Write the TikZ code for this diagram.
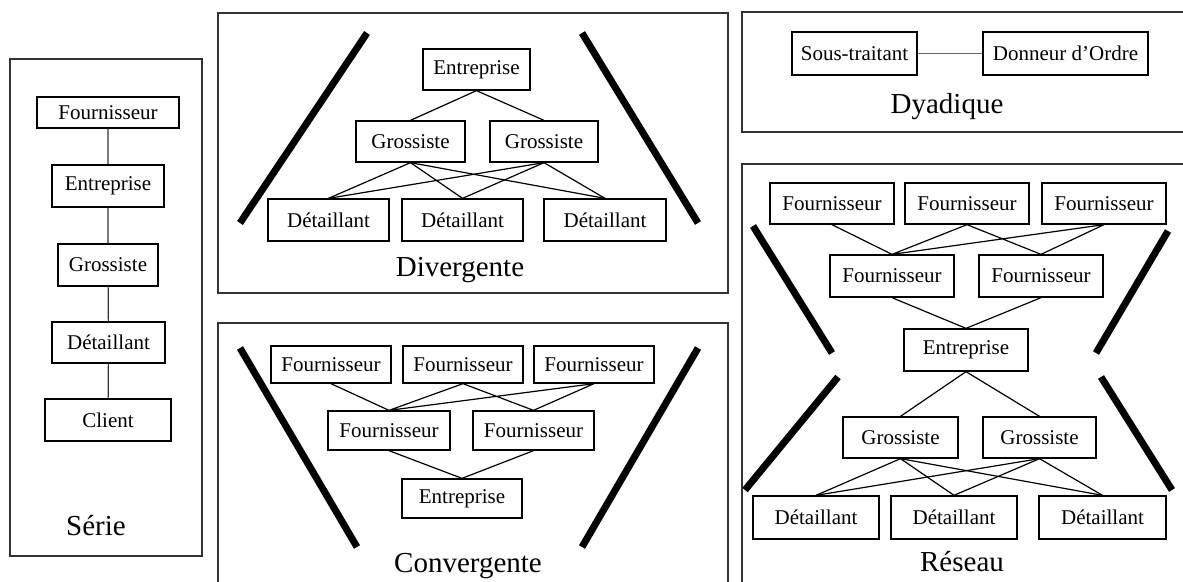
\documentclass[tikz,border=0pt]{standalone}
\usepackage{fontspec}
\setmainfont{Liberation Serif}
\begin{document}
\begin{tikzpicture}[x=1pt,y=-1pt,
  box/.style={draw, line width=1.3pt, inner sep=0pt, font=\fontsize{21}{24}\selectfont},
  frame/.style={draw=black!80, line width=1.4pt},
  link/.style={line width=1.2pt},
  bar/.style={line width=7pt},
  title/.style={inner sep=0pt, font=\fontsize{29}{34}\selectfont}]
\useasboundingbox (0,0) rectangle (1183,581);
\clip (0,0) rectangle (1183,581);
\fill[white] (0,0) rectangle (1183,581);

% ---------- Serie ----------
\draw[frame] (10,59) rectangle (202,556);
\node[box, minimum width=142pt, minimum height=31pt] (s1) at (108,112.5) {Fournisseur};
\node[box, minimum width=112pt, minimum height=42pt] (s2) at (108,186) {Entreprise};
\node[box, minimum width=100pt, minimum height=42pt] (s3) at (108,265) {Grossiste};
\node[box, minimum width=113pt, minimum height=41pt] (s4) at (108.5,342.5) {Détaillant};
\node[box, minimum width=126pt, minimum height=42pt] (s5) at (108,420) {Client};
\draw[link, black!80] (s1) -- (s2) (s2) -- (s3) (s3) -- (s4) (s4) -- (s5);
\node[title] (tserie) at (96,526) {Série};

% ---------- Divergente ----------
\draw[frame] (218,13) rectangle (728,293);
\draw[bar] (240,223) -- (367,33);
\draw[bar] (582,33) -- (698,223);
\node[box, minimum width=107pt, minimum height=41pt] (de) at (476.5,69.5) {Entreprise};
\node[box, minimum width=109pt, minimum height=41pt] (dg1) at (410.5,141.5) {Grossiste};
\node[box, minimum width=108pt, minimum height=41pt] (dg2) at (544,141.5) {Grossiste};
\node[box, minimum width=121pt, minimum height=42pt] (dd1) at (328.5,220) {Détaillant};
\node[box, minimum width=121pt, minimum height=42pt] (dd2) at (462.5,220) {Détaillant};
\node[box, minimum width=122pt, minimum height=42pt] (dd3) at (605,220) {Détaillant};
\draw[link] (de.south) -- (dg1.north) (de.south) -- (dg2.north);
\foreach \g in {dg1,dg2}{
  \foreach \d in {dd1,dd2,dd3}{
    \draw[link] (\g.south) -- (\d.north);
  }
}
\node[title] (tdiv) at (460,270) {Divergente};

% ---------- Convergente ----------
\draw[frame] (218,323) rectangle (728,600);
\draw[bar] (240,348) -- (357,547);
\draw[bar] (698,348) -- (582,547);
\node[box, minimum width=120pt, minimum height=37pt] (cf1) at (331,364.5) {Fournisseur};
\node[box, minimum width=120pt, minimum height=37pt] (cf2) at (463,364.5) {Fournisseur};
\node[box, minimum width=120pt, minimum height=37pt] (cf3) at (594,364.5) {Fournisseur};
\node[box, minimum width=122pt, minimum height=39pt] (cf4) at (389,430.5) {Fournisseur};
\node[box, minimum width=121pt, minimum height=39pt] (cf5) at (533.5,430.5) {Fournisseur};
\node[box, minimum width=120pt, minimum height=39pt] (ce) at (462,498.5) {Entreprise};
\draw[link] (cf1.south) -- (cf4.north)
            (cf2.south) -- (cf4.north) (cf2.south) -- (cf5.north)
            (cf3.south) -- (cf4.north) (cf3.south) -- (cf5.north)
            (cf4.south) -- (ce.north) (cf5.south) -- (ce.north);
\node[title] (tconv) at (468,566) {Convergente};

% ---------- Dyadique ----------
\draw[frame] (742,12) rectangle (1200,132);
\node[box, minimum width=125pt, minimum height=43pt] (st) at (854.5,53.5) {Sous-traitant};
\node[box, minimum width=165pt, minimum height=43pt] (dor) at (1065.5,53.5) {Donneur d’Ordre};
\draw[link, black!60] (st) -- (dor);
\node[title] (tdya) at (947,107) {Dyadique};

% ---------- Reseau ----------
\draw[frame] (742,164) rectangle (1200,600);
\draw[bar] (753,226) -- (832,353);
\draw[bar] (838,377) -- (745,490);
\draw[bar] (1168,231) -- (1096,353);
\draw[bar] (1101,377) -- (1172,490);
\node[box, minimum width=124pt, minimum height=41pt] (rf1) at (832,203.5) {Fournisseur};
\node[box, minimum width=124pt, minimum height=41pt] (rf2) at (967,203.5) {Fournisseur};
\node[box, minimum width=124pt, minimum height=41pt] (rf3) at (1104,203.5) {Fournisseur};
\node[box, minimum width=124pt, minimum height=42pt] (rf4) at (892,276) {Fournisseur};
\node[box, minimum width=124pt, minimum height=42pt] (rf5) at (1041,276) {Fournisseur};
\node[box, minimum width=124pt, minimum height=42pt] (re) at (966,350) {Entreprise};
\node[box, minimum width=115pt, minimum height=41pt] (rg1) at (900.5,437.5) {Grossiste};
\node[box, minimum width=113pt, minimum height=41pt] (rg2) at (1039.5,437.5) {Grossiste};
\node[box, minimum width=126pt, minimum height=43pt] (rd1) at (816,517.5) {Détaillant};
\node[box, minimum width=126pt, minimum height=43pt] (rd2) at (954,517.5) {Détaillant};
\node[box, minimum width=127pt, minimum height=43pt] (rd3) at (1102.5,517.5) {Détaillant};
\draw[link] (rf1.south) -- (rf4.north)
            (rf2.south) -- (rf4.north) (rf2.south) -- (rf5.north)
            (rf3.south) -- (rf4.north) (rf3.south) -- (rf5.north)
            (rf4.south) -- (re.north) (rf5.south) -- (re.north)
            (re.south) -- (rg1.north) (re.south) -- (rg2.north);
\foreach \g in {rg1,rg2}{
  \foreach \d in {rd1,rd2,rd3}{
    \draw[link] (\g.south) -- (\d.north);
  }
}
\node[title] (tres) at (962,562) {Réseau};
\end{tikzpicture}
\end{document}
